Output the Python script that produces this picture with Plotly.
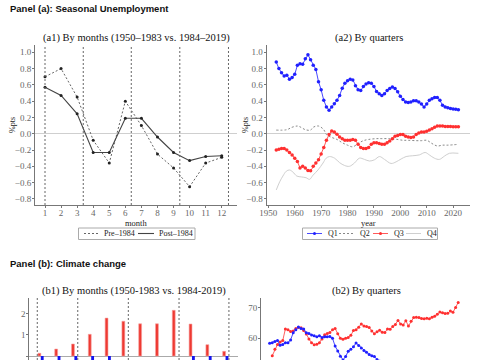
import plotly.graph_objects as go

# ---------------- data ----------------
months = list(range(1, 13))
pre_1984 = [0.70, 0.80, 0.45, -0.08, -0.36, 0.40, 0.10, -0.25, -0.42, -0.65, -0.36, -0.29]
post_1984 = [0.57, 0.47, 0.245, -0.23, -0.23, 0.19, 0.19, -0.04, -0.23, -0.33, -0.28, -0.27]
a1_quarter_lines = [1.0, 3.38, 6.37, 9.39, 12.42]

q_years = list(range(1953, 2023))
q1 = [0.88, 0.80, 0.75, 0.71, 0.72, 0.67, 0.69, 0.73, 0.84, 0.86,
      0.855, 0.92, 0.97, 0.91, 0.84, 0.79, 0.64, 0.54, 0.41, 0.33,
      0.29, 0.33, 0.37, 0.41, 0.47, 0.56, 0.62, 0.65, 0.67, 0.66,
      0.59, 0.54, 0.53, 0.58, 0.61, 0.625, 0.62, 0.58, 0.52, 0.49,
      0.47, 0.49, 0.53, 0.555, 0.575, 0.555, 0.515, 0.46, 0.42, 0.39,
      0.385, 0.39, 0.405, 0.405, 0.39, 0.365, 0.33, 0.365, 0.41, 0.43,
      0.445, 0.445, 0.41, 0.35, 0.33, 0.32, 0.31, 0.305, 0.30, 0.295]
q3 = [-0.20, -0.19, -0.18, -0.18, -0.20, -0.23, -0.26, -0.30, -0.34, -0.42,
      -0.40, -0.42, -0.45, -0.455, -0.40, -0.36, -0.32, -0.25, -0.17, -0.08,
      -0.01, 0.035, 0.02, -0.005, -0.04, -0.06, -0.08, -0.08, -0.08, -0.07,
      -0.08, -0.13, -0.17, -0.18, -0.18, -0.17, -0.13, -0.11, -0.11, -0.12,
      -0.13, -0.13, -0.11, -0.09, -0.06, -0.03, -0.02, -0.01, -0.01, -0.03,
      -0.04, -0.045, -0.04, -0.01, 0.01, 0.02, 0.02, 0.03, 0.045, 0.06,
      0.08, 0.095, 0.095, 0.095, 0.09, 0.09, 0.09, 0.085, 0.085, 0.085]
q2_years = [1953, 1957, 1959, 1961, 1962, 1964, 1966, 1967, 1969, 1971,
            1972, 1974, 1976, 1978, 1980, 1982, 1984, 1986, 1988, 1991,
            1993, 1996, 1998, 2001, 2003, 2006, 2008, 2010, 2012, 2014,
            2016, 2018, 2022]
q2 = [0.045, 0.05, 0.08, 0.095, 0.085, 0.05, 0.045, 0.08, 0.095, 0.05,
      -0.01, -0.045, -0.07, -0.11, -0.14, -0.16, -0.12, -0.085, -0.07, -0.06,
      -0.06, -0.06, -0.065, -0.08, -0.08, -0.085, -0.085, -0.08, -0.12, -0.15,
      -0.14, -0.14, -0.13]
q4_years = [1953, 1954.3, 1955.5, 1956.8, 1958, 1959.3, 1960.8, 1962.5, 1964.3, 1965.6,
            1966.9, 1968.8, 1970.7, 1971.9, 1973.2, 1975.1, 1977, 1978.9, 1980.7, 1982.6,
            1984.5, 1986.4, 1988.3, 1990.2, 1992.1, 1994, 1996.5, 1998.4, 2000.3, 2002.2,
            2004.7, 2007.2, 2009.4, 2011, 2012.9, 2014.8, 2016.7, 2018.6, 2022]
q4 = [-0.69, -0.59, -0.52, -0.46, -0.445, -0.47, -0.52, -0.53, -0.54, -0.56,
      -0.51, -0.445, -0.36, -0.30, -0.28, -0.30, -0.355, -0.39, -0.40, -0.36,
      -0.30, -0.315, -0.335, -0.32, -0.28, -0.315, -0.365, -0.345, -0.31, -0.28,
      -0.27, -0.26, -0.23, -0.26, -0.30, -0.315, -0.275, -0.24, -0.24]

b1_early = [0.13, 0.33, 0.57, 1.03, 1.80, 1.65, 1.53, 1.53, 2.17, 1.52, 0.54, 0.22]
b1_late = [-0.5, -0.6, -0.7, -0.8, -0.6, 0, 0, 0, 0, -0.5, -0.6, -0.4]
b1_quarter_lines = [0.79, 3.20, 6.21, 9.23, 12.2]

b2_years = list(range(1951, 2023))
b2_red = [54.4, 56.5, 58.0, 58.8, 59.3, 63.0, 62.8, 62.2, 62.4, 63.2,
          63.5, 63.4, 62.5, 61.4, 59.8, 58.6, 57.9, 58.1, 58.6, 59.8,
          61.2, 61.6, 61.9, 62.8, 63.2, 61.5, 60.0, 59.7, 60.0, 60.3,
          61.0, 62.5, 62.8, 63.6, 64.6, 64.0, 63.8, 63.5, 62.4, 61.5,
          62.1, 62.6, 62.0, 61.9, 63.0, 62.9, 63.8, 64.5, 65.8, 64.6,
          64.3, 65.7, 64.0, 65.5, 66.7, 66.8, 66.7, 66.4, 66.3, 66.5,
          66.3, 66.8, 67.1, 67.8, 68.5, 68.3, 68.0, 68.1, 68.8, 68.4,
          70.0, 71.6]
b2_blue_years = list(range(1950, 2023))
b2_blue = [58.4, 58.6, 59.0, 59.3, 57.8, 58.0, 58.6, 58.6, 59.5, 61.8,
           62.8, 63.7, 63.2, 63.0, 61.8, 61.6, 61.1, 60.8, 60.5, 60.8,
           60.3, 60.5, 60.5, 60.6, 60.0, 57.5, 55.9, 54.2, 53.0, 54.1,
           55.8, 56.5, 57.3, 58.5, 57.7, 56.9, 56.1, 55.5, 54.8, 54.4,
           54.1, 53.2, 52.6, 52.0, 51.8, 51.5, 51.0, 50.8, 50.5, 50.2,
           50.0, 49.6, 49.4, 49.0, 48.8, 48.5, 48.3, 48.0, 47.8, 47.5,
           47.3, 47.0, 46.8, 46.6, 46.3, 46.0, 45.8, 45.6, 45.3, 45.0,
           44.8, 44.6, 44.3]

a1_legend_labels = ["Pre–1984", "Post–1984"]
a2_legend_labels = ["Q1", "Q2", "Q3", "Q4"]

# ---------------- figure ----------------
W, H = 485, 360
def px(xp):
    return xp / W
def py(yp):
    return 1 - yp / H

SERIF = "Liberation Serif"
fig = go.Figure()

style_pre = dict(line=dict(color="#666", width=1, dash="2px,2px"), marker=dict(size=3, color="#222"))
style_post = dict(line=dict(color="#444", width=1.1), marker=dict(size=3, color="#222"))
style_q1 = dict(line=dict(color="#4848ff", width=1), marker=dict(size=3.5, color="#2020ff"))
style_q2 = dict(line=dict(color="#888", width=1, dash="2px,2px"))
style_q3 = dict(line=dict(color="#ff5a5a", width=1), marker=dict(size=3.5, color="#ff3030"))
style_q4 = dict(line=dict(color="#cfcfcf", width=1))

fig.add_trace(go.Scatter(x=months, y=pre_1984, name=a1_legend_labels[0], mode="lines+markers",
                         xaxis="x", yaxis="y", **style_pre))
fig.add_trace(go.Scatter(x=months, y=post_1984, name=a1_legend_labels[1], mode="lines+markers",
                         xaxis="x", yaxis="y", **style_post))

fig.add_trace(go.Scatter(x=q2_years, y=q2, name="Q2", mode="lines", line_shape="spline",
                         xaxis="x2", yaxis="y2", **style_q2))
fig.add_trace(go.Scatter(x=q4_years, y=q4, name="Q4", mode="lines", line_shape="spline",
                         xaxis="x2", yaxis="y2", **style_q4))
fig.add_trace(go.Scatter(x=q_years, y=q1, name="Q1", mode="lines+markers",
                         xaxis="x2", yaxis="y2", **style_q1))
fig.add_trace(go.Scatter(x=q_years, y=q3, name="Q3", mode="lines+markers",
                         xaxis="x2", yaxis="y2", **style_q3))

fig.add_trace(go.Bar(x=months, y=b1_early, width=0.17, offset=-0.17,
                     marker=dict(color="#ee3a32", line=dict(color="#f7a0a0", width=0.6)),
                     xaxis="x3", yaxis="y3"))
fig.add_trace(go.Bar(x=months, y=b1_late, width=0.17, offset=0.0,
                     marker=dict(color="#1414ee", line=dict(width=0)),
                     xaxis="x3", yaxis="y3"))

fig.add_trace(go.Scatter(x=b2_years, y=b2_red, mode="lines+markers",
                         line=dict(color="#ff6060", width=1), marker=dict(size=3, color="#ff3030"),
                         xaxis="x4", yaxis="y4"))
fig.add_trace(go.Scatter(x=b2_blue_years, y=b2_blue, mode="lines+markers",
                         line=dict(color="#4848ff", width=1), marker=dict(size=3, color="#2020ff"),
                         xaxis="x4", yaxis="y4"))

xtickfont = dict(family=SERIF, size=9, color="#666")
ytickfont = dict(family=SERIF, size=9, color="#666")
base = dict(showgrid=False, showline=True, linecolor="#777", linewidth=1, automargin=False,
            ticks="outside", tickcolor="#777")
xcommon = dict(base, ticklen=2, tickfont=xtickfont, ticklabelstandoff=-3)
ycommon = dict(base, ticklen=2, tickfont=ytickfont, ticklabelstandoff=-1)

a_ydom = [py(205), py(45)]
b_ydom = [0, py(297.5)]
a_yticks = [-0.8, -0.6, -0.4, -0.2, 0, 0.2, 0.4, 0.6, 0.8, 1.0]

fig.update_layout(
    width=W, height=H, margin=dict(l=0, r=0, t=0, b=0, autoexpand=False),
    paper_bgcolor="white", plot_bgcolor="white", showlegend=False,
    font=dict(family=SERIF, color="#333"),
    barmode="overlay",
    xaxis=dict(domain=[px(35), px(237)], range=[0.377, 12.95], tickvals=months,
               anchor="y", zeroline=False, **xcommon),
    yaxis=dict(domain=a_ydom, range=[-0.875, 1.09], tickvals=a_yticks, tickformat=".1f", anchor="x",
               zeroline=True, zerolinecolor="#cfcfcf", zerolinewidth=1, **ycommon),
    xaxis2=dict(domain=[px(266.5), px(470)], range=[1949.3, 2026.4],
                tickvals=[1950, 1960, 1970, 1980, 1990, 2000, 2010, 2020],
                anchor="y2", zeroline=False, **xcommon),
    yaxis2=dict(domain=a_ydom, range=[-0.875, 1.09], tickvals=a_yticks, tickformat=".1f", anchor="x2",
                zeroline=True, zerolinecolor="#cfcfcf", zerolinewidth=1, **ycommon),
    xaxis3=dict(domain=[px(29.3), px(238)], range=[0.315, 12.74], anchor="y3", automargin=False,
                showgrid=False, showline=False, showticklabels=False, zeroline=False),
    yaxis3=dict(domain=b_ydom, range=[-0.19, 2.78], tickvals=[0, 1, 2], anchor="x3",
                zeroline=True, zerolinecolor="#aaa", zerolinewidth=1, **ycommon),
    xaxis4=dict(domain=[px(261), px(470)], range=[1946.7, 2026.5], anchor="y4", automargin=False,
                showgrid=False, showline=False, showticklabels=False, zeroline=False),
    yaxis4=dict(domain=b_ydom, range=[53.0, 73.2], tickvals=[60, 70], anchor="x4",
                zeroline=False, **ycommon),
)

shapes = []
for xv in a1_quarter_lines:
    shapes.append(dict(type="line", xref="x", yref="y domain", x0=xv, x1=xv, y0=0, y1=1,
                       line=dict(color="#666", width=1, dash="2px,2px")))
for xv in b1_quarter_lines:
    shapes.append(dict(type="line", xref="x3", yref="y3 domain", x0=xv, x1=xv, y0=0, y1=1,
                       line=dict(color="#666", width=1, dash="2px,2px")))

title_font = dict(family=SERIF, size=10.5, color="#111")
panel_font = dict(family="Liberation Sans", size=9.5, color="#111")
axis_title_font = dict(family=SERIF, size=8.5, color="#222")
legend_font = dict(family=SERIF, size=8, color="#222")
ytitle_font = dict(family=SERIF, size=8, color="#222")
annos = [
    dict(text="<b>Panel (a): Seasonal Unemployment</b>", x=px(8), y=py(8), xanchor="left", yanchor="middle", font=panel_font),
    dict(text="<b>Panel (b): Climate change</b>", x=px(8), y=py(263), xanchor="left", yanchor="middle", font=panel_font),
    dict(text="(a1) By months (1950–1983 vs. 1984–2019)", x=px(136), y=py(38), xanchor="center", yanchor="middle", font=title_font),
    dict(text="(a2) By quarters", x=px(368.5), y=py(38), xanchor="center", yanchor="middle", font=title_font),
    dict(text="(b1) By months (1950-1983 vs. 1984-2019)", x=px(134), y=py(291), xanchor="center", yanchor="middle", font=title_font),
    dict(text="(b2) By quarters", x=px(366), y=py(291), xanchor="center", yanchor="middle", font=title_font),
    dict(text="month", x=px(136), y=py(222.5), xanchor="center", yanchor="middle", font=axis_title_font),
    dict(text="year", x=px(368.5), y=py(222.5), xanchor="center", yanchor="middle", font=axis_title_font),
    dict(text="%pts", x=px(12), y=py(125), xanchor="center", yanchor="middle", textangle=-90, font=ytitle_font),
    dict(text="%pts", x=px(245), y=py(125), xanchor="center", yanchor="middle", textangle=-90, font=ytitle_font),
]

# ---- hand-built compact legends ----
leg_y = py(233.5)
shapes.append(dict(type="rect", xref="paper", yref="paper", x0=px(78.5), x1=px(195), y0=py(239.5), y1=py(228),
                   line=dict(color="#aaa", width=1), fillcolor="white"))
shapes.append(dict(type="rect", xref="paper", yref="paper", x0=px(302.5), x1=px(437.5), y0=py(239.5), y1=py(228),
                   line=dict(color="#aaa", width=1), fillcolor="white"))

a1_leg_items = [(84, 99, style_pre, 102), (138, 154, style_post, 157)]
for (xa, xb, st, xt), lab in zip(a1_leg_items, a1_legend_labels):
    shapes.append(dict(type="line", xref="paper", yref="paper", x0=px(xa), x1=px(xb), y0=leg_y, y1=leg_y,
                       line=st["line"]))
    annos.append(dict(text=lab, x=px(xt), y=leg_y, xanchor="left", yanchor="middle", font=legend_font))

a2_leg_items = [(307, 322, style_q1, 325.5), (339, 355, style_q2, 357.5),
                (373, 388, style_q3, 391.5), (406, 421, style_q4, 424.5)]
for (xa, xb, st, xt), lab in zip(a2_leg_items, a2_legend_labels):
    shapes.append(dict(type="line", xref="paper", yref="paper", x0=px(xa), x1=px(xb), y0=leg_y, y1=leg_y,
                       line=st["line"]))
    if "marker" in st:
        cx = (xa + xb) / 2
        shapes.append(dict(type="circle", xref="paper", yref="paper", x0=px(cx - 1.5), x1=px(cx + 1.5),
                           y0=py(233.5 + 1.5), y1=py(233.5 - 1.5),
                           fillcolor=st["marker"]["color"], line=dict(width=0)))
    annos.append(dict(text=lab, x=px(xt), y=leg_y, xanchor="left", yanchor="middle", font=legend_font))

for a in annos:
    a.update(xref="paper", yref="paper", showarrow=False)
fig.update_layout(shapes=shapes, annotations=annos)

fig.write_html("out.html", config={"displayModeBar": False, "staticPlot": True},
               post_script="document.body.style.margin='0';document.body.style.overflow='hidden';")
